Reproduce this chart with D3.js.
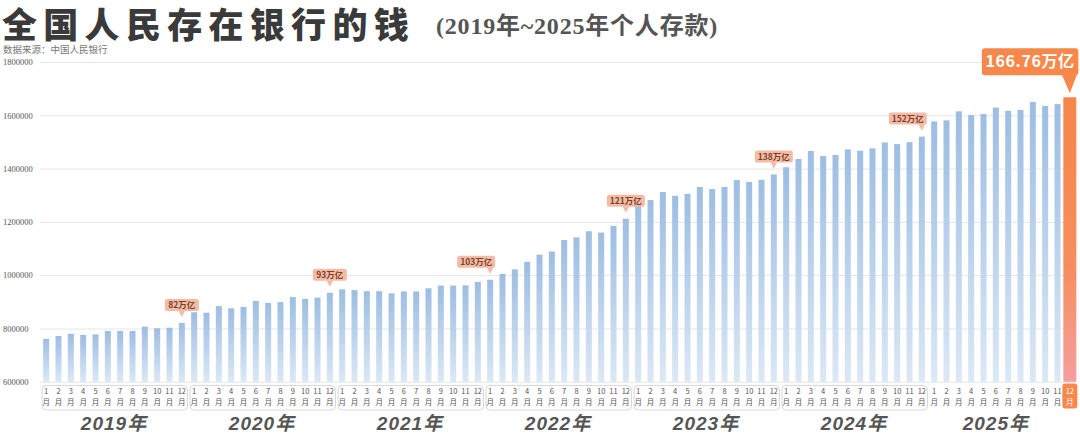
<!DOCTYPE html>
<html><head><meta charset="utf-8">
<script src="https://cdn.jsdelivr.net/npm/d3@7"></script>
<style>
body{margin:0;background:#fff;}
svg{display:block;}
</style></head><body>
<svg id="c" width="1080" height="437"></svg>
<script>
// ---- data (单位：亿元) ----
const years = ["2019年","2020年","2021年","2022年","2023年","2024年","2025年"];
const monthLabels = ["1","2","3","4","5","6","7","8","9","10","11","12"];
const v2019 = [761000, 772000, 780000, 776000, 778000, 791000, 791000, 791000, 807000, 801000, 803000, 821000];
const v2020 = [861000, 859000, 884000, 876000, 881000, 903000, 896000, 899000, 918000, 911000, 916000, 934000];
const v2021 = [947000, 944000, 940000, 940000, 932000, 939000, 939000, 951000, 961000, 961000, 962000, 975000];
const v2022 = [983000, 1005000, 1022000, 1050000, 1077000, 1089000, 1132000, 1142000, 1165000, 1160000, 1185000, 1212000];
const v2023 = [1273000, 1282000, 1312000, 1298000, 1305000, 1331000, 1323000, 1331000, 1357000, 1350000, 1358000, 1378000];
const v2024 = [1405000, 1436000, 1466000, 1447000, 1451000, 1472000, 1467000, 1476000, 1498000, 1492000, 1499000, 1520000];
const v2025 = [1577000, 1581000, 1615000, 1601000, 1605000, 1629000, 1617000, 1620000, 1650000, 1635000, 1642000, 1667600];
const yTicks = [600000, 800000, 1000000, 1200000, 1400000, 1600000, 1800000];
const annoIndex = [11, 23, 36, 47, 59, 71];
const annoLabels = ["82万亿", "93万亿", "103万亿", "121万亿", "138万亿", "152万亿"];
const highlightLabel = "166.76万亿";
const titleText = "全国人民存在银行的钱";
const subtitleText = "(2019年~2025年个人存款)";
const sourceText = "数据来源：中国人民银行";

// ---- layout ----
const annoAlign = ["c", "c", "r", "c", "c", "r"];
const values = [].concat(v2019, v2020, v2021, v2022, v2023, v2024, v2025);
const idx = d3.range(values.length);
const last = values.length - 1;
const svg = d3.select("#c");
const x = d3.scaleBand().domain(idx).range([40, 1076]);
const cx = i => x(i) + x.bandwidth() / 2;
const y = d3.scaleLinear().domain([600000, 1800000]).range([381.8, 62]);

const defs = svg.append("defs");
const gb = defs.append("linearGradient").attr("id", "gb").attr("x1", 0).attr("x2", 0).attr("y1", 0).attr("y2", 1);
gb.append("stop").attr("offset", "0%").attr("stop-color", "#9dbde2");
gb.append("stop").attr("offset", "100%").attr("stop-color", "#dbe8f6");
const go = defs.append("linearGradient").attr("id", "go").attr("x1", 0).attr("x2", 0).attr("y1", 0).attr("y2", 1);
go.append("stop").attr("offset", "0%").attr("stop-color", "#f6874a");
go.append("stop").attr("offset", "60%").attr("stop-color", "#f68d5e");
go.append("stop").attr("offset", "100%").attr("stop-color", "#f4a0a0");

// title
svg.append("text").attr("x", 2).attr("y", 37.5)
  .attr("font-family", "'Liberation Sans','Noto Sans CJK SC'").attr("font-weight", 900)
  .attr("font-size", 35).attr("letter-spacing", 6.3).attr("fill", "#3a3a3a").text(titleText);
svg.append("text").attr("x", 436).attr("y", 33.5)
  .attr("font-family", "'Liberation Serif','Noto Sans CJK SC'").attr("font-weight", 700)
  .attr("font-size", 24).attr("letter-spacing", 0.8).attr("fill", "#555").text(subtitleText);
svg.append("text").attr("x", 3).attr("y", 53)
  .attr("font-family", "'Liberation Sans','Noto Sans CJK SC'").attr("font-size", 9.5).attr("fill", "#777").text(sourceText);

// y axis + grid
const gy = svg.append("g").attr("transform", "translate(40,0)")
  .call(d3.axisLeft(y).tickValues(yTicks).tickSize(-1035).tickFormat(d3.format("d")));
gy.select(".domain").remove();
gy.selectAll(".tick line").attr("stroke", "#e6e6e6");
gy.selectAll(".tick text").attr("x", -37).attr("text-anchor", "start")
  .attr("font-family", "'Liberation Serif'").attr("font-size", 8.5).attr("fill", "#555");

// bars
svg.append("g").selectAll("rect").data(idx).join("rect")
  .attr("x", i => cx(i) - (i === last ? 6.5 : 3))
  .attr("width", i => i === last ? 13 : 6)
  .attr("y", i => y(values[i]))
  .attr("height", i => y(600000) - y(values[i]))
  .attr("fill", i => i === last ? "url(#go)" : "url(#gb)");

// year boxes
const yearGroups = years.map((yr, k) => d3.range(k * 12, k * 12 + 12));
svg.append("g").selectAll("rect").data(yearGroups.slice(0, 6)).join("rect")
  .attr("x", g => x(g[0]) + 2).attr("width", g => x(g[11]) + x.bandwidth() - x(g[0]) - 2.5)
  .attr("y", 385.5).attr("height", 24.5).attr("rx", 4)
  .attr("fill", "none").attr("stroke", "#d9d9d9").attr("stroke-width", 1);

// highlight month box
svg.append("rect").attr("x", cx(last) - 7.5).attr("width", 15).attr("y", 383.5).attr("height", 25).attr("rx", 3)
  .attr("fill", "#f6884c");

// month labels
const ml = svg.append("g").selectAll("g").data(idx).join("g")
  .attr("transform", i => `translate(${cx(i)},0)`)
  .attr("font-family", "'Noto Sans CJK SC'").attr("font-size", 7.5).attr("text-anchor", "middle")
  .attr("fill", i => i === last ? "#fff" : "#555");
ml.append("text").attr("y", 393.5).text(i => monthLabels[i % 12]);
ml.append("text").attr("y", 405).text("月");

// year labels
svg.append("g").selectAll("text").data(yearGroups).join("text")
  .attr("x", (g, k) => { const gg = k === 6 ? g.slice(0, 11) : g; return (cx(gg[0]) + cx(gg[gg.length - 1])) / 2; })
  .attr("y", 429.5).attr("text-anchor", "middle")
  .attr("font-family", "'Liberation Sans','Noto Sans CJK SC'").attr("font-weight", 700).attr("font-style", "italic")
  .attr("font-size", 19).attr("letter-spacing", 1).attr("fill", "#555")
  .text((g, k) => years[k]);

// small annotations
const ann = svg.append("g").selectAll("g").data(annoIndex).join("g")
  .attr("transform", i => `translate(${cx(i)},${y(values[i])})`);
ann.each(function (i, k) {
  const g = d3.select(this);
  const big = annoLabels[k].length > 5;
  const w = big ? 40 : (annoLabels[k].length > 4 ? 38 : 34);
  const h = big ? 13.5 : 12;
  const left = annoAlign[k] === "r" ? -w + 5 : -w / 2;
  const bottom = big ? -8 : -12;
  g.append("rect").attr("x", left).attr("y", bottom - h).attr("width", w).attr("height", h).attr("rx", 2.5)
    .attr("fill", "#f4bca6");
  g.append("path").attr("d", `M-3.5,${bottom - 0.5}L3.5,${bottom - 0.5}L0,${bottom + 6}Z`).attr("fill", "#f4bca6");
  g.append("text").attr("x", left + w / 2).attr("y", bottom - h / 2 + 3.2).attr("text-anchor", "middle")
    .attr("font-family", "'Noto Sans CJK SC'").attr("font-weight", 700).attr("font-size", big ? 9.5 : 8.5)
    .attr("fill", "#7a3f2c").text(annoLabels[k]);
});

// highlight annotation
const hx = cx(last), hy = y(values[last]);
const hg = svg.append("g");
hg.append("rect").attr("x", hx - 88).attr("y", hy - 49).attr("width", 96.5).attr("height", 27).attr("rx", 3).attr("fill", "#f6884c");
hg.append("path").attr("d", `M${hx - 8},${hy - 22.5}L${hx + 7},${hy - 22.5}L${hx},${hy - 4}Z`).attr("fill", "#f6884c");
hg.append("text").attr("x", hx - 39.75).attr("y", hy - 30).attr("text-anchor", "middle")
  .attr("font-family", "'Noto Sans CJK SC'").attr("font-weight", 700).attr("font-size", 16).attr("letter-spacing", 0.6)
  .attr("fill", "#fff").text(highlightLabel);
</script>
</body></html>
